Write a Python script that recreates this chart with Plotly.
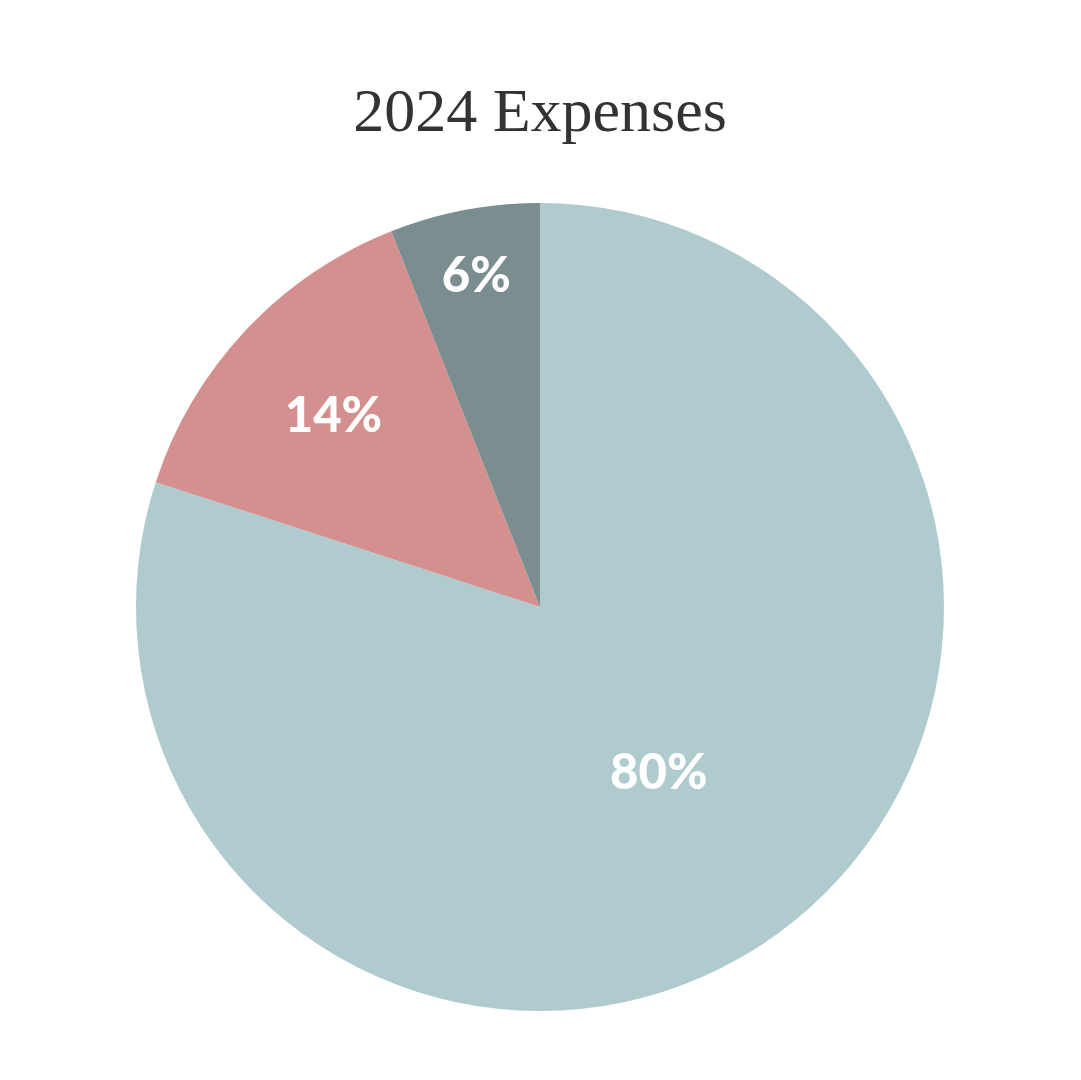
import plotly.graph_objects as go

categories = ["Category A", "Category B", "Category C"]
values = [80, 14, 6]
colors = ["#B0CBCE", "#D4908F", "#7A8D8F"]

W, H = 1081, 1080
off = 8  # default page body margin
cx, cy, r = 540 - off, 607 - off, 404

fig = go.Figure(go.Pie(
    labels=categories,
    values=values,
    sort=False,
    direction="clockwise",
    rotation=0,
    marker=dict(colors=colors, line=dict(width=0)),
    textinfo="percent",
    texttemplate="%{percent:.0%}",
    textposition="inside",
    insidetextorientation="horizontal",
    textfont=dict(family="Lato", size=49, color="white", weight=900),
    hole=0,
    domain=dict(x=[(cx - r) / W, (cx + r) / W], y=[1 - (cy + r) / H, 1 - (cy - r) / H]),
    showlegend=False,
))

fig.update_layout(
    width=W, height=H,
    margin=dict(l=0, r=0, t=0, b=0),
    paper_bgcolor="white",
    plot_bgcolor="white",
    title=dict(
        text="2024 Expenses",
        x=(540 - off) / W, xanchor="center",
        y=1 - (109 - off) / H, yanchor="middle",
        font=dict(family="Liberation Serif", size=62, color="#333333"),
    ),
    showlegend=False,
)

fig.write_html("out.html")
